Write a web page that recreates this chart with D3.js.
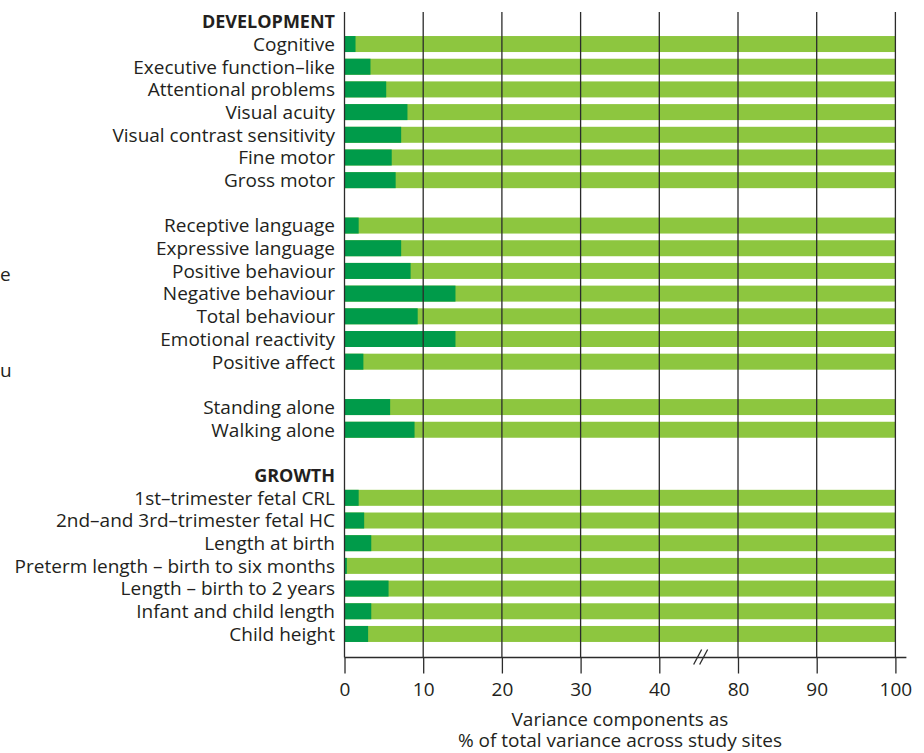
<!DOCTYPE html>
<html>
<head>
<meta charset="utf-8">
<script src="https://cdn.jsdelivr.net/npm/d3@7"></script>
<style>
  body { margin: 0; background: #fff; }
  svg { display: block; }
  text { font-family: "Open Sans", sans-serif; fill: #231f20; }
</style>
</head>
<body>
<div id="viz"></div>
<script>
// site variance (% of total variance), rest of each bar is up to 100
const developmentCategories = [
  "Cognitive", "Executive function\u2013like", "Attentional problems", "Visual acuity",
  "Visual contrast sensitivity", "Fine motor", "Gross motor",
  "Receptive language", "Expressive language", "Positive behaviour", "Negative behaviour",
  "Total behaviour", "Emotional reactivity", "Positive affect",
  "Standing alone", "Walking alone"
];
const developmentValues = [1.4, 3.3, 5.3, 8.0, 7.2, 6.0, 6.5, 1.8, 7.2, 8.4, 14.1, 9.3, 14.1, 2.4, 5.8, 8.9];
const developmentGapsAfter = ["Gross motor", "Positive affect"];

const growthCategories = [
  "1st\u2013trimester fetal CRL", "2nd\u2013and 3rd\u2013trimester fetal HC", "Length at birth",
  "Preterm length \u2013 birth to six months", "Length \u2013 birth to 2 years",
  "Infant and child length", "Child height"
];
const growthValues = [1.8, 2.5, 3.4, 0.3, 5.6, 3.4, 3.0];

const tickValues = [0, 10, 20, 30, 40, 80, 90, 100];
const axisTitle = ["Variance components as", "% of total variance across study sites"];

// build the row list: headers, bars and blank spacer rows
let rows = [{type: "header", label: "DEVELOPMENT"}];
developmentCategories.forEach((c, i) => {
  rows.push({type: "bar", label: c, value: developmentValues[i]});
  if (developmentGapsAfter.includes(c)) rows.push({type: "gap", label: ""});
});
rows.push({type: "gap", label: ""});
rows.push({type: "header", label: "GROWTH"});
growthCategories.forEach((c, i) => rows.push({type: "bar", label: c, value: growthValues[i]}));
rows.forEach((r, i) => r.id = i);

const width = 924, height = 753;
const left = 344.5;
const seg = 78.7;
const fontSize = "19px";

const svg = d3.select("#viz").append("svg")
  .attr("width", width)
  .attr("height", height);

// broken axis: 40..80 squeezed into one tick interval
const x = d3.scaleLinear()
  .domain([0, 40, 80, 100])
  .range([left, left + 4 * seg, left + 5 * seg, left + 7 * seg]);

const y = d3.scaleBand()
  .domain(rows.map(d => d.id))
  .range([10, 645.3])
  .paddingInner(0.295)
  .paddingOuter(0.1475);

const axisY = 657.5;
const plotTop = 12;

// bars
const bars = svg.selectAll("g.row").data(rows.filter(d => d.type === "bar"))
  .enter().append("g").classed("row", true);

bars.append("rect")
  .attr("x", x(0))
  .attr("y", d => y(d.id))
  .attr("width", x(100) - x(0))
  .attr("height", y.bandwidth())
  .attr("fill", "#8dc63f");

bars.append("rect")
  .attr("x", x(0))
  .attr("y", d => y(d.id))
  .attr("width", d => x(d.value) - x(0))
  .attr("height", y.bandwidth())
  .attr("fill", "#009b4a");

// labels
svg.selectAll("text.label").data(rows.filter(d => d.type !== "gap"))
  .enter().append("text")
  .classed("label", true)
  .attr("x", 335)
  .attr("y", d => y(d.id) + y.bandwidth() / 2)
  .attr("dy", "0.36em")
  .attr("text-anchor", "end")
  .style("font-size", d => d.type === "header" ? "18px" : fontSize)
  .style("font-weight", d => d.type === "header" ? 700 : 400)
  .text(d => d.label);

// gridlines (over the bars)
svg.selectAll("line.grid").data(tickValues)
  .enter().append("line")
  .classed("grid", true)
  .attr("x1", d => x(d)).attr("x2", d => x(d))
  .attr("y1", plotTop).attr("y2", axisY)
  .attr("stroke", "#2b2b2b")
  .attr("stroke-width", 1.3);

// x axis
const xAxis = d3.axisBottom(x)
  .tickValues(tickValues)
  .tickSizeInner(16)
  .tickSizeOuter(0)
  .tickPadding(9);

const gx = svg.append("g")
  .attr("transform", `translate(0,${axisY})`)
  .call(xAxis);

gx.select(".domain").remove();
gx.selectAll(".tick line").attr("stroke", "#2b2b2b").attr("stroke-width", 1.3);
gx.selectAll(".tick text")
  .style("font-family", "'Open Sans', sans-serif")
  .style("font-size", fontSize)
  .attr("fill", "#231f20");

gx.append("line")
  .attr("x1", x(0)).attr("x2", x(100) + 11)
  .attr("y1", 0).attr("y2", 0)
  .attr("stroke", "#2b2b2b")
  .attr("stroke-width", 1.3);

// break marks
const bx = (x(40) + x(80)) / 2 + 2;
[-3, 3].forEach(o => {
  gx.append("line")
    .attr("x1", bx + o - 4).attr("y1", 7)
    .attr("x2", bx + o + 4).attr("y2", -8)
    .attr("stroke", "#2b2b2b")
    .attr("stroke-width", 1.3);
});

// axis title, two lines
svg.selectAll("text.title").data(axisTitle)
  .enter().append("text")
  .classed("title", true)
  .attr("text-anchor", "middle")
  .attr("x", (x(0) + x(100)) / 2)
  .attr("y", (d, i) => 726 + i * 21)
  .style("font-size", fontSize)
  .text(d => d);

// clipped letters from the neighbouring panel
svg.append("text").attr("x", 0).attr("y", 281)
  .style("font-size", fontSize).text("e");
svg.append("text").attr("x", 0).attr("y", 377)
  .style("font-size", fontSize).text("u");
</script>
</body>
</html>
